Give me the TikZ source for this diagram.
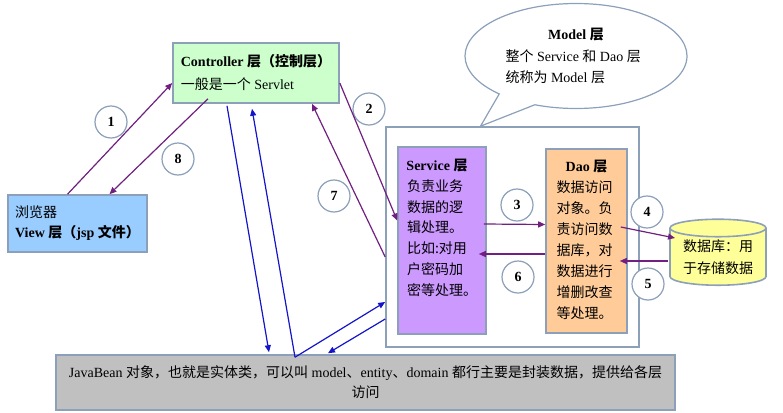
\documentclass[tikz,border=0pt]{standalone}
\usepackage{fontspec}
\setmainfont{Liberation Serif}
\newfontfamily\cjk{Noto Sans CJK SC}
\usepackage{xcolor}
\usepackage{tikz}
\usetikzlibrary{arrows.meta,shapes.geometric,shapes.callouts}

\newcommand\cn[1]{{\cjk #1}}
\newcommand\headline[2]{\makebox[#1]{\bfseries #2}}

\definecolor{edgecol}{RGB}{140,160,186}
\definecolor{ctrlgreen}{RGB}{204,255,204}
\definecolor{viewblue}{RGB}{153,204,255}
\definecolor{servpurple}{RGB}{204,153,255}
\definecolor{daoorange}{RGB}{255,204,153}
\definecolor{dbyellow}{RGB}{255,255,153}
\definecolor{beangray}{RGB}{192,192,192}
\definecolor{flowpurple}{RGB}{112,32,128}
\definecolor{flowblue}{RGB}{20,20,200}

\begin{document}
\begin{tikzpicture}[x=1pt,y=-1pt,
    font=\fontsize{14}{21}\selectfont,
    box/.style={draw=edgecol, line width=1.6pt, inner sep=0pt},
    num/.style={circle, draw=edgecol, line width=1.2pt, fill=white, minimum size=32pt, inner sep=0pt, font=\fontsize{14}{16}\selectfont\bfseries},
    flow/.style={flowpurple, line width=1.2pt, -{Triangle[length=7pt,width=6pt]}},
    beanflow/.style={flowblue, line width=1.2pt, -{Triangle[length=7pt,width=6pt]}}]
    \useasboundingbox (0,0) rectangle (783,412);

    % layers
    \node[box, fill=ctrlgreen, minimum width=166pt, minimum height=60pt, align=left, font=\fontsize{14}{23}\selectfont] (ctrl) at (256,73)
        {\textbf{Controller \cn{层（控制层）}}\\\cn{一般是一个} Servlet};
    \node[box, fill=viewblue, minimum width=139pt, minimum height=57pt, align=left, font=\fontsize{14}{20}\selectfont] (view) at (77.5,223.5)
        {\cn{浏览器}\\\textbf{View \cn{层（}jsp \cn{文件）}}};
    \node[box, fill=white, minimum width=253pt, minimum height=220pt] (model) at (512.5,237) {};
    \node[box, fill=servpurple, minimum width=88pt, minimum height=187pt] (serv) at (442,240.5) {};
    \node[box, fill=daoorange, minimum width=81pt, minimum height=184pt] (dao) at (586.5,241) {};
    \node[anchor=north, align=left, inner sep=0pt, font=\fontsize{14}{20.7}\selectfont] (servtxt) at ([yshift=-13pt]serv.north)
        {\headline{60pt}{Service \cn{层}}\\\cn{负责业务}\\\cn{数据的逻}\\\cn{辑处理。}\\\cn{比如:对用}\\\cn{户密码加}\\\cn{密等处理。}};
    \node[anchor=north, align=left, inner sep=0pt, font=\fontsize{14}{21}\selectfont] (daotxt) at ([yshift=-12pt]dao.north)
        {\headline{60pt}{Dao \cn{层}}\\\cn{数据访问}\\\cn{对象。负}\\\cn{责访问数}\\\cn{据库，对}\\\cn{数据进行}\\\cn{增删改查}\\\cn{等处理。}};
    \node[cylinder, shape border rotate=90, aspect=0.25, draw=edgecol, line width=1.6pt, fill=dbyellow, minimum width=96pt, minimum height=66pt, inner sep=0pt, align=center, font=\fontsize{14}{22}\selectfont] (db) at (718,257)
        {\cn{数据库：用}\\\cn{于存储数据}};
    \node[box, fill=beangray, minimum width=619pt, minimum height=55pt, align=center, font=\fontsize{14}{20}\selectfont] (jbean) at (365.5,382.5)
        {JavaBean \cn{对象，也就是实体类，可以叫} model\cn{、}entity\cn{、}domain \cn{都行主要是封装数据，提供给各层}\\\cn{访问}};
    \node[ellipse callout, draw=edgecol, line width=1.2pt, fill=white, minimum width=222pt, minimum height=105pt, inner sep=0pt, align=left,
        callout absolute pointer={([xshift=-32pt]model.north)}, callout pointer arc=22, font=\fontsize{14}{21.5}\selectfont] (bub) at (576,56)
        {\headline{141pt}{Model \cn{层}}\\\cn{整个} Service \cn{和} Dao \cn{层}\\\cn{统称为} Model \cn{层}};

    % step numbers
    \foreach \n/\x/\y in {1/111/122, 8/178/159, 2/369/109, 7/334/196, 3/517/205, 4/647/212, 6/518/277, 5/648/284}
        \node[num] (n\n) at (\x,\y) {\n};

    % request flow
    \draw[flow] ([xshift=-10pt]view.north) -- ([yshift=-10pt]ctrl.west);
    \draw[flow] ([xshift=-48pt,yshift=5pt]ctrl.south) -- ([xshift=32pt]view.north);
    \draw[flow] ([yshift=-10pt]ctrl.east) -- ([yshift=20pt]serv.west);
    \draw[flow] ([yshift=-20pt]model.west) -- ([xshift=56pt]ctrl.south);
    \draw[flow] ([xshift=-3pt,yshift=16.5pt]serv.east) -- ([yshift=16.5pt]dao.west);
    \draw[flow] ([yshift=-13pt]dao.west) -- ([xshift=-8pt,yshift=-13.5pt]serv.east);
    \draw[flow] ([xshift=-7pt,yshift=14pt]dao.east) -- ([xshift=-43pt,yshift=19pt]db.center);
    \draw[flow] ([xshift=-50pt,yshift=-4pt]db.center) -- ([xshift=-8pt,yshift=-20pt]dao.east);

    % javabean links
    \coordinate (jb) at ([xshift=-70.5pt,yshift=-3pt]jbean.north);
    \draw[beanflow] ([xshift=-29pt,yshift=-2pt]ctrl.south) -- ([xshift=-96.5pt,yshift=2pt]jbean.north);
    \draw[beanflow] (jb) -- ([xshift=-4pt,yshift=-5pt]ctrl.south);
    \draw[beanflow] (jb) -- ([yshift=-65pt]model.west);
    \draw[beanflow] ([yshift=-82pt]model.west) -- ([xshift=-37.5pt,yshift=1pt]jbean.north);
\end{tikzpicture}
\end{document}
